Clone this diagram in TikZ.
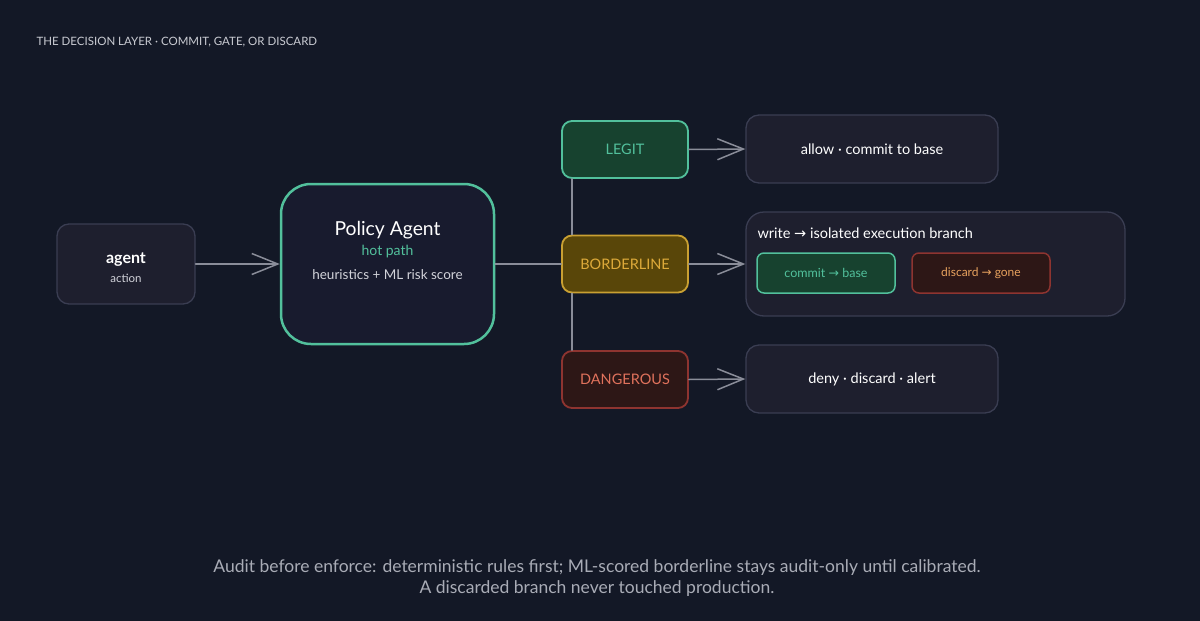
\documentclass[tikz,border=0pt]{standalone}
\usepackage{fontspec}
\setmainfont{Lato}
\newfontfamily\symfont{DejaVu Sans}
\usetikzlibrary{arrows.meta}
\definecolor{bg}{HTML}{131826}
\definecolor{boxfill}{HTML}{1E1F2E}
\definecolor{boxline}{HTML}{3A3D52}
\definecolor{polfill}{HTML}{181B2E}
\definecolor{teal}{HTML}{52C09C}
\definecolor{greenfill}{HTML}{17422F}
\definecolor{amber}{HTML}{C9A032}
\definecolor{amberfill}{HTML}{594609}
\definecolor{ambertext}{HTML}{DDAA3A}
\definecolor{rust}{HTML}{8E3430}
\definecolor{rustfill}{HTML}{2D1716}
\definecolor{rusttext}{HTML}{E0725C}
\definecolor{orange}{HTML}{E8A25E}
\definecolor{wire}{HTML}{8A8D99}
\definecolor{title}{HTML}{C9CBD2}
\definecolor{soft}{HTML}{D2D3DA}
\definecolor{foot}{HTML}{A9ACB6}
\newcommand{\arr}{{\symfont\char"2192}}
\tikzset{
  every picture/.style={line join=round, line cap=round},
  box/.style={draw=boxline, fill=boxfill, line width=1.3pt, rounded corners=13pt, inner sep=0pt},
  verdict/.style={line width=1.8pt, rounded corners=10pt, minimum width=126pt, minimum height=57pt, inner sep=0pt, font=\fontsize{14.5}{16}\selectfont},
  outcome/.style={box, minimum width=252pt, minimum height=68pt, text=white, font=\fontsize{14.5}{16}\selectfont},
  chip/.style={line width=1.5pt, rounded corners=7pt, minimum width=138pt, minimum height=40pt, inner sep=0pt},
  link/.style={draw=wire, line width=1.5pt},
  flow/.style={link, -{Straight Barb[length=26pt,width=21pt,line width=1.5pt]}},
}

\begin{document}
\begin{tikzpicture}[x=1pt,y=-1pt]
\fill[bg] (0,0) rectangle (1200,621);
\useasboundingbox (0,0) rectangle (1200,621);
\node[anchor=west,text=title,font=\fontsize{11.5}{13}\selectfont] (heading) at (33,42) {THE DECISION LAYER · COMMIT, GATE, OR DISCARD};

\node[box,minimum width=138pt,minimum height=80pt,rounded corners=12pt] (agent) at (126,264) {};
\node[text=white,font=\fontsize{16}{18}\selectfont\bfseries] (agentname) at (126,260) {agent};
\node[text=soft,font=\fontsize{11.5}{13}\selectfont] (agentsub) at (126,278) {action};

\node[draw=teal,fill=polfill,line width=2.5pt,rounded corners=30pt,minimum width=213pt,minimum height=160pt] (policy) at (387.5,264) {};
\node[text=white,font=\fontsize{19.3}{22}\selectfont] (poltitle) at (387.5,230) {Policy Agent};
\node[text=teal,font=\fontsize{14}{16}\selectfont] (polpath) at (387.5,252) {hot path};
\node[text=soft,font=\fontsize{13.5}{15}\selectfont] (polscore) at (387.5,275) {heuristics + ML risk score};

\node[verdict,draw=teal,fill=greenfill,text=teal] (legit) at (625,149.5) {LEGIT};
\node[verdict,draw=amber,fill=amberfill,text=ambertext] (bord) at (625,264) {BORDERLINE};
\node[verdict,draw=rust,fill=rustfill,text=rusttext] (dang) at (625,379.5) {DANGEROUS};

\node[outcome] (allow) at (872,149) {allow · commit to base};
\node[box,minimum width=379pt,minimum height=104pt,rounded corners=18pt] (write) at (935.5,264) {};
\node[anchor=west,text=white,font=\fontsize{14.5}{16}\selectfont] (writetxt) at (754,233) {write \arr\ isolated execution branch};
\node[chip,draw=teal,fill=greenfill,text=teal,font=\fontsize{12.5}{14}\selectfont] (commit) at (826,273) {commit \arr\ base};
\node[chip,draw=rust,fill=rustfill,text=orange,font=\fontsize{12}{14}\selectfont] (discard) at (981,273) {discard \arr\ gone};
\node[outcome] (deny) at (872,379) {deny · discard · alert};

\draw[flow] (agent.east) -- (policy.west);
\draw[link] (policy.east) -- (bord.west);
\draw[link] ([xshift=11pt]legit.south west) -- ([xshift=11pt]bord.north west);
\draw[link] ([xshift=11pt]bord.south west) -- ([xshift=11pt]dang.north west);
\draw[flow] (legit.east) -- (allow.west);
\draw[flow] (bord.east) -- (bord.east -| write.west);
\draw[flow] (dang.east) -- (deny.west);

\node[text=foot,align=center,font=\fontsize{17.5}{21.5}\selectfont] (footer) at (597,578) {Audit before enforce: deterministic rules first; ML-scored borderline stays audit-only until calibrated.\\A discarded branch never touched production.};
\end{tikzpicture}
\end{document}
